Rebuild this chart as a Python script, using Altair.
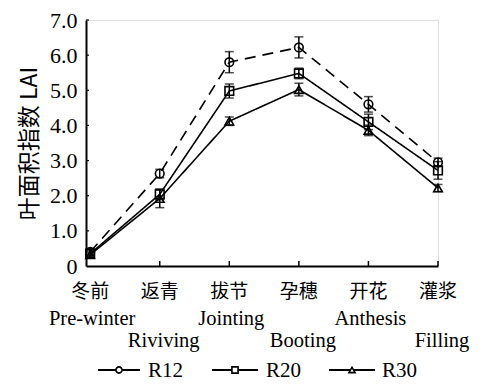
import altair as alt
import pandas as pd

# ---- data ----
stages_cn = ["冬前", "返青", "拔节", "孕穗", "开花", "灌浆"]
stages_en = ["Pre-winter", "Riviving", "Jointing", "Booting", "Anthesis", "Filling"]
series_names = ["R12", "R20", "R30"]
r12 = [0.40, 2.63, 5.80, 6.22, 4.60, 2.95]
r12_err = [0.10, 0.12, 0.30, 0.30, 0.22, 0.12]
r20 = [0.35, 2.04, 4.98, 5.48, 4.10, 2.72]
r20_err = [0.10, 0.15, 0.20, 0.15, 0.22, 0.25]
r30 = [0.32, 1.92, 4.12, 5.02, 3.86, 2.22]
r30_err = [0.08, 0.26, 0.12, 0.18, 0.15, 0.10]
y_ticks = [0, 1, 2, 3, 4, 5, 6, 7]
x_ticks = [1, 2, 3, 4, 5]

rows = []
for name, vals, errs in zip(series_names, [r12, r20, r30], [r12_err, r20_err, r30_err]):
    for i, (v, e) in enumerate(zip(vals, errs)):
        rows.append({"idx": i, "series": name, "value": v, "lo": v - e, "hi": v + e})
df = pd.DataFrame(rows)
lab = pd.DataFrame({"idx": list(range(6)), "cn": stages_cn, "en": stages_en})
lab_even = lab[lab.idx % 2 == 0]
lab_odd = lab[lab.idx % 2 == 1]
xticks_df = pd.DataFrame({"idx": x_ticks})
yticks_df = pd.DataFrame({"value": y_ticks[1:]})

LATIN = "Liberation Serif"
CJK = "Noto Sans CJK SC"
W, H = 352, 246
TOP = 12

xs = alt.Scale(domain=[-0.06, 5.0], nice=False, zero=False)
ys = alt.Scale(domain=[0, 7], nice=False)

x_axis = alt.Axis(values=x_ticks, labels=False, ticks=False, grid=False,
                  domainColor="black", domainWidth=2, title=None)
y_axis = alt.Axis(values=y_ticks, grid=False, ticks=False, domainColor="black",
                  domainWidth=2, labelFont=LATIN, labelFontSize=22,
                  labelColor="black", labelPadding=9, labelOverlap=False,
                  labelExpr="datum.value == 0 ? '0' : format(datum.value, '.1f')",
                  title="叶面积指数 LAI", titleFont=CJK, titleFontSize=23,
                  titleFontWeight="normal", titleColor="black", titlePadding=8)


def X():
    return alt.X("idx:Q", scale=xs, axis=x_axis)


def Y(f):
    return alt.Y(f, scale=ys, axis=y_axis, title="叶面积指数 LAI")


base = alt.Chart(df)

lines = base.mark_line(color="black", strokeWidth=1.6).encode(
    x=X(), y=Y("value:Q"), detail="series:N",
    strokeDash=alt.StrokeDash("series:N", scale=alt.Scale(domain=series_names,
                              range=[[11, 7], [1, 0], [1, 0]]), legend=None))

err = base.mark_rule(color="black", strokeWidth=1.5).encode(
    x=X(), y=Y("lo:Q"), y2="hi:Q")
cap_lo = base.mark_tick(color="black", thickness=1.5, size=9, orient="horizontal").encode(
    x=X(), y=Y("lo:Q"))
cap_hi = base.mark_tick(color="black", thickness=1.5, size=9, orient="horizontal").encode(
    x=X(), y=Y("hi:Q"))

pts = base.mark_point(color="black", filled=False, strokeWidth=1.6, size=75, opacity=1).encode(
    x=X(), y=Y("value:Q"),
    shape=alt.Shape("series:N", scale=alt.Scale(domain=series_names,
                    range=["circle", "square", "triangle-up"]), legend=None))

xticks = alt.Chart(xticks_df).mark_rule(color="black", strokeWidth=1.5).encode(
    x=X(), y=alt.value(H - 5), y2=alt.value(H))
yticks = alt.Chart(yticks_df).mark_rule(color="black", strokeWidth=1.2).encode(
    y=Y("value:Q"), x=alt.value(0), x2=alt.value(3))

cn_labels = alt.Chart(lab).mark_text(font=CJK, fontSize=19, color="black",
                                     baseline="middle").encode(
    x=X(), y=alt.value(H + 26), text="cn:N")
en_even = alt.Chart(lab_even).mark_text(font=LATIN, fontSize=20.5, color="black",
                                        baseline="middle", dx=2).encode(
    x=X(), y=alt.value(H + 53), text="en:N")
en_odd = alt.Chart(lab_odd).mark_text(font=LATIN, fontSize=20.5, color="black",
                                      baseline="middle", dx=4).encode(
    x=X(), y=alt.value(H + 75), text="en:N")

# manual legend
leg_layers = []
leg_pos = [(12, 54, 62), (126, 172, 180), (243, 289, 296)]
leg_shapes = ["circle", "square", "triangle-up"]
LY = H + 104
for name, (a, b, t), shp in zip(series_names, leg_pos, leg_shapes):
    d = pd.DataFrame({"series": [name]})
    c = alt.Chart(d)
    leg_layers.append(c.mark_rule(color="black", strokeWidth=1.8).encode(
        x=alt.value(a), x2=alt.value(b), y=alt.value(LY)))
    leg_layers.append(c.mark_point(shape=shp, color="black", fill="white", filled=True,
                                   stroke="black", strokeWidth=1.6, size=38, opacity=1).encode(
        x=alt.value((a + b) / 2), y=alt.value(LY)))
    leg_layers.append(c.mark_text(font=LATIN, fontSize=21, color="black", align="left",
                                  baseline="middle").encode(
        x=alt.value(t), y=alt.value(LY + 1), text="series:N"))

chart = alt.layer(lines, err, cap_lo, cap_hi, pts, xticks, yticks, cn_labels, en_even,
                  en_odd, *leg_layers).properties(
    width=W, height=H,
    autosize=alt.AutoSizeParams(type="none"),
    padding={"left": 78, "top": TOP, "right": 39, "bottom": 376 - TOP - H},
).configure_view(stroke=None).configure(background="white")

chart.save("out.html", embed_options={"renderer": "svg", "actions": False})
